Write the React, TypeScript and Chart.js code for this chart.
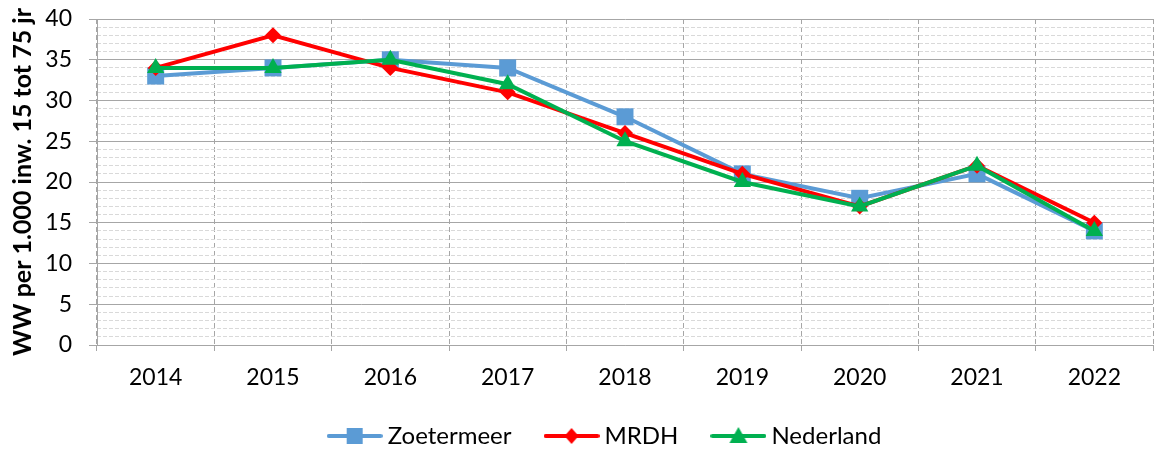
import React, { useEffect, useRef } from "react";
import { Chart, registerables } from "chart.js";

Chart.register(...registerables);

const years = ["2014", "2015", "2016", "2017", "2018", "2019", "2020", "2021", "2022"];
const zoetermeer = [33, 34, 35, 34, 28, 21, 18, 21, 14];
const mrdh = [34, 38, 34, 31, 26, 21, 17, 22, 15];
const nederland = [34, 34, 35, 32, 25, 20, 17, 22, 14];
const seriesNames = ["Zoetermeer", "MRDH", "Nederland"];
const yTitle = "WW per 1.000 inw. 15 tot 75 jr";

const BLUE = "#5B9BD5";
const RED = "#FF0000";
const GREEN = "#00B050";
const FONT = "Lato, 'Open Sans', sans-serif";

function legendIcon(color: string, style: string): HTMLCanvasElement {
  const c = document.createElement("canvas");
  c.width = 56;
  c.height = 20;
  const ctx = c.getContext("2d")!;
  ctx.strokeStyle = color;
  ctx.fillStyle = color;
  ctx.lineWidth = 4;
  ctx.lineCap = "round";
  ctx.beginPath();
  ctx.moveTo(2, 10);
  ctx.lineTo(54, 10);
  ctx.stroke();
  const cx = 28, cy = 10;
  ctx.beginPath();
  if (style === "rect") {
    ctx.rect(cx - 8, cy - 8, 16, 16);
  } else if (style === "rectRot") {
    ctx.moveTo(cx, cy - 8);
    ctx.lineTo(cx + 7, cy);
    ctx.lineTo(cx, cy + 8);
    ctx.lineTo(cx - 7, cy);
    ctx.closePath();
  } else {
    ctx.moveTo(cx, cy - 9);
    ctx.lineTo(cx + 9, cy + 7);
    ctx.lineTo(cx - 9, cy + 7);
    ctx.closePath();
  }
  ctx.fill();
  return c;
}

export default function App() {
  const ref = useRef<HTMLCanvasElement | null>(null);

  useEffect(() => {
    document.body.style.margin = "0";
    const canvas = ref.current;
    if (!canvas) return;

    const icons = [legendIcon(BLUE, "rect"), legendIcon(RED, "rectRot"), legendIcon(GREEN, "triangle")];

    const legendShift = {
      id: "legendShift",
      afterLayout(chart: any) {
        const lg = chart.legend;
        if (lg) {
          lg.left += 31;
          lg.right += 31;
        }
      },
    };

    const chart = new Chart(canvas, {
      type: "line",
      data: {
        labels: years,
        datasets: [
          {
            label: seriesNames[0],
            data: zoetermeer,
            borderColor: BLUE,
            backgroundColor: BLUE,
            borderWidth: 4,
            pointStyle: "rect",
            pointRadius: 12,
            pointHoverRadius: 12,
            pointBorderWidth: 0,
            order: 3,
          },
          {
            label: seriesNames[1],
            data: mrdh,
            borderColor: RED,
            backgroundColor: RED,
            borderWidth: 4,
            pointStyle: "rectRot",
            pointRadius: 8,
            pointHoverRadius: 8,
            pointBorderWidth: 0,
            order: 2,
          },
          {
            label: seriesNames[2],
            data: nederland,
            borderColor: GREEN,
            backgroundColor: GREEN,
            borderWidth: 4,
            pointStyle: "triangle",
            pointRadius: 10,
            pointHoverRadius: 10,
            pointBorderWidth: 0,
            order: 1,
          },
        ],
      },
      options: {
        responsive: false,
        animation: false,
        devicePixelRatio: 1,
        events: [],
        layout: { autoPadding: false, padding: { top: 19, right: 2, left: 0, bottom: -8 } },
        plugins: {
          tooltip: { enabled: false },
          legend: {
            position: "bottom",
            labels: {
              usePointStyle: true,
              pointStyleWidth: 42,
              boxHeight: 24,
              padding: 39,
              color: "#000",
              font: { family: FONT, size: 24 },
              generateLabels: (ch: any) =>
                ch.data.datasets.map((ds: any, i: number) => ({
                  text: ds.label,
                  pointStyle: icons[i],
                  fillStyle: ds.borderColor,
                  strokeStyle: ds.borderColor,
                  lineWidth: 0,
                  hidden: false,
                  datasetIndex: i,
                  fontColor: "#000",
                })),
            },
          },
        },
        scales: {
          x: {
            offset: true,
            grid: {
              offset: true,
              color: "#A6A6A6",
              lineWidth: 1,
              drawTicks: true,
              tickLength: 8,
              tickColor: "#A6A6A6",
              tickBorderDash: [5, 3],
            },
            border: { display: true, color: "#A6A6A6", width: 1, dash: [5, 3] },
            ticks: {
              color: "#000",
              font: { family: FONT, size: 23 },
              padding: 11,
              maxRotation: 0,
            },
            afterFit: (scale: any) => {
              const lh = scale.chart.legend ? scale.chart.legend.height : 0;
              scale.height = 113 - lh;
              scale.paddingLeft = 0;
              scale.paddingRight = 0;
            },
          },
          yMinor: {
            position: "left",
            min: 0,
            max: 40,
            ticks: { display: false, stepSize: 1 },
            grid: {
              drawTicks: false,
              color: (ctx: any) => (ctx.tick && ctx.tick.value % 5 === 0 ? "rgba(0,0,0,0)" : "#D9D9D9"),
              lineWidth: 1,
            },
            border: { display: false, dash: [4, 2] },
            afterFit: (scale: any) => {
              scale.width = 0;
              scale.paddingTop = 0;
              scale.paddingBottom = 0;
            },
          },
          y: {
            position: "left",
            min: 0,
            max: 40,
            ticks: {
              stepSize: 5,
              color: "#000",
              font: { family: FONT, size: 23 },
              padding: 17,
            },
            grid: {
              color: "#A6A6A6",
              lineWidth: 1,
              drawTicks: true,
              tickLength: 8,
              tickColor: "#A6A6A6",
            },
            border: { display: true, color: "#A6A6A6", width: 1 },
            title: {
              display: true,
              text: yTitle,
              color: "#000",
              font: { family: FONT, size: 25, weight: "bold" },
              padding: { top: 8, bottom: 0 },
            },
            afterFit: (scale: any) => {
              scale.width = 97;
              scale.paddingTop = 0;
              scale.paddingBottom = 0;
            },
          },
        },
      },
      plugins: [legendShift],
    });

    return () => chart.destroy();
  }, []);

  return (
    <div style={{ width: 1155, height: 450 }}>
      <canvas ref={ref} width={1155} height={450} style={{ display: "block" }} />
    </div>
  );
}
